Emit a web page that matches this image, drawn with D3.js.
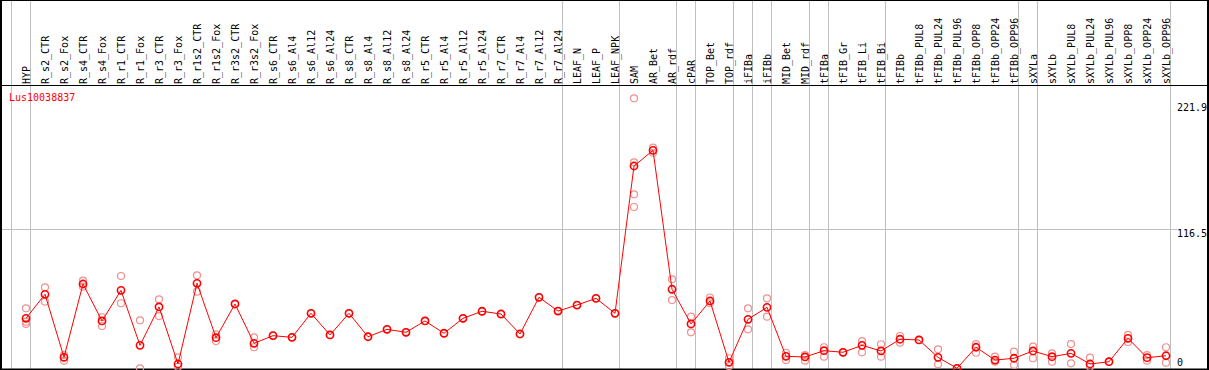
<!DOCTYPE html>
<html>
<head>
<meta charset="utf-8">
<script src="https://cdn.jsdelivr.net/npm/d3@7"></script>
<style>
  html, body { margin: 0; padding: 0; background: #fff; }
  svg { display: block; }
  text { font-family: "DejaVu Sans Mono", monospace; font-size: 10px; }
</style>
</head>
<body>
<script>
const title = "Lus10038837";
const categories = ["HYP","R_s2_CTR","R_s2_Fox","R_s4_CTR","R_s4_Fox","R_r1_CTR","R_r1_Fox","R_r3_CTR","R_r3_Fox",
  "R_r1s2_CTR","R_r1s2_Fox","R_r3s2_CTR","R_r3s2_Fox","R_s6_CTR","R_s6_Al4","R_s6_Al12","R_s6_Al24",
  "R_s8_CTR","R_s8_Al4","R_s8_Al12","R_s8_Al24","R_r5_CTR","R_r5_Al4","R_r5_Al12","R_r5_Al24",
  "R_r7_CTR","R_r7_Al4","R_r7_Al12","R_r7_Al24","LEAF_N","LEAF_P","LEAF_NPK","SAM","AR_Bet","AR_rdf",
  "cPAR","TOP_Bet","TOP_rdf","iFIBa","iFIBb","MID_Bet","MID_rdf","tFIBa","tFIB_Gr","tFIB_Li","tFIB_Bi",
  "tFIBb","tFIBb_PUL8","tFIBb_PUL24","tFIBb_PUL96","tFIBb_OPP8","tFIBb_OPP24","tFIBb_OPP96",
  "sXYLa","sXYLb","sXYLb_PUL8","sXYLb_PUL24","sXYLb_PUL96","sXYLb_OPP8","sXYLb_OPP24","sXYLb_OPP96"];
const means = [41.8,61.9,9.2,70.5,39.6,65.2,19.2,51.3,3.6,71.1,25.6,53.8,20.9,27.3,25.9,46.0,27.9,46.0,26.4,32.6,30.1,
  39.6,29.3,41.8,47.7,45.4,28.7,59.4,47.9,52.9,58.5,46.0,169.2,182.3,66.1,37.1,56.3,5.0,41.0,51.0,10.0,9.5,
  14.7,13.4,19.2,14.5,24.3,23.7,9.2,0,17.6,6.9,8.4,14.5,9.7,12.5,3.6,5.5,25.1,8.9,10.5];
const replicates = [[50.2,39.0,37.1],[67.7,55.7],[11.1,6.4],[73.3,68.3],[42.7,35.4],[77.2,54.4],[40.1,0],[57.7,43.7],[9.2,1.3],
  [77.8,64.1],[28.4,22.8],[53.8],[25.9,17.6],[27.3],[25.9],[46.0],[27.9],[46.0],[26.4],[32.6],[30.1],
  [39.6],[29.3],[41.8],[47.7],[45.4],[28.7],[59.4],[47.9],[52.9],[58.5],[46.0],[225.8,172.3,145.5,134.9],[184.5,180.3],[74.4,57.1],
  [43.2,30.1],[59.2,54.4],[8.4,1.9],[50.2,32.6],[58.5,43.2],[13.0,6.9],[11.1,6.4],[17.6,9.7],[13.4],[22.8,13.4],[20.1,9.7],
  [27.0,21.4],[23.7],[15.9,3.3],[0],[20.3,13.0],[9.7,5.5],[13.9,2.8],[18.1,8.4],[12.5,5.5],[20.3,4.2],[8.9,1.3],[5.5],[27.9,22.0],[11.1,6.4],[17.6,4.7]];
const groupStarts = ["HYP","R_s2_CTR","LEAF_N","SAM","cPAR","TOP_Bet","iFIBa","iFIBb","MID_Bet","tFIBa","tFIB_Gr","tFIBb","sXYLa","sXYLb"];
const yTicks = [0, 116.5, 221.9];

const W = 1209, H = 370;
const svg = d3.select("body").append("svg").attr("width", W).attr("height", H);

const x = d3.scaleBand().domain(categories).range([11, 1170]).paddingInner(0).paddingOuter(0);
const y = d3.scaleLinear().domain([0, 221.9]).range([368.3, 103]);
const px = c => x(c) + x.bandwidth() * 0.79;

// horizontal grid at middle tick
svg.append("g").selectAll("line").data(yTicks.filter(v => v > 0 && v < 221.9)).join("line")
  .attr("x1", 1).attr("x2", 1177).attr("y1", d => Math.round(y(d)) + 0.5).attr("y2", d => Math.round(y(d)) + 0.5)
  .attr("stroke", "#c0c0c0").attr("stroke-width", 1);

// vertical group lines
const vx = groupStarts.map(g => x(g)).concat([x.range()[1]]);
svg.append("g").selectAll("line").data(vx).join("line")
  .attr("x1", d => Math.round(d) + 0.5).attr("x2", d => Math.round(d) + 0.5)
  .attr("y1", 0).attr("y2", 369)
  .attr("stroke", "#c0c0c0").attr("stroke-width", 1);

// header labels
svg.append("g").selectAll("text").data(categories).join("text")
  .attr("transform", d => `translate(${x(d) + x.bandwidth() - 0.5},84) rotate(-90)`)
  .attr("fill", "#000")
  .text(d => d);

// frame
svg.append("line").attr("x1", 0).attr("x2", W).attr("y1", 85.5).attr("y2", 85.5).attr("stroke", "#000");
svg.append("line").attr("x1", 0).attr("x2", W).attr("y1", 0.5).attr("y2", 0.5).attr("stroke", "#000");
svg.append("line").attr("x1", 0).attr("x2", W).attr("y1", 369.5).attr("y2", 369.5).attr("stroke", "#000").attr("stroke-width", 2);
svg.append("line").attr("x1", 1).attr("x2", 1).attr("y1", 0).attr("y2", H).attr("stroke", "#000").attr("stroke-width", 2);
svg.append("line").attr("x1", 1208).attr("x2", 1208).attr("y1", 0).attr("y2", H).attr("stroke", "#000").attr("stroke-width", 2);

// title
svg.append("text").attr("x", 9).attr("y", 101).attr("fill", "#ff0000").text(title);

// right axis labels
svg.append("g").selectAll("text").data(yTicks).join("text")
  .attr("x", 1177)
  .attr("y", d => Math.min(y(d) + 8, 365.5))
  .attr("fill", "#000")
  .text(d => d);

// replicate points
const repData = [];
categories.forEach((c, i) => replicates[i].forEach(v => repData.push({c, v})));
svg.append("g").selectAll("circle").data(repData).join("circle")
  .attr("cx", d => px(d.c)).attr("cy", d => y(d.v)).attr("r", 3.5)
  .attr("fill", "none").attr("stroke", "#f09090").attr("stroke-width", 1.2);

// mean line
const line = d3.line().x((d, i) => px(categories[i])).y(d => y(d));
svg.append("path").datum(means).attr("d", line)
  .attr("fill", "none").attr("stroke", "#ff0000").attr("stroke-width", 1);

// mean points
svg.append("g").selectAll("circle").data(means).join("circle")
  .attr("cx", (d, i) => px(categories[i])).attr("cy", d => y(d)).attr("r", 3.6)
  .attr("fill", "none").attr("stroke", "#ff0000").attr("stroke-width", 1.6);
</script>
</body>
</html>
